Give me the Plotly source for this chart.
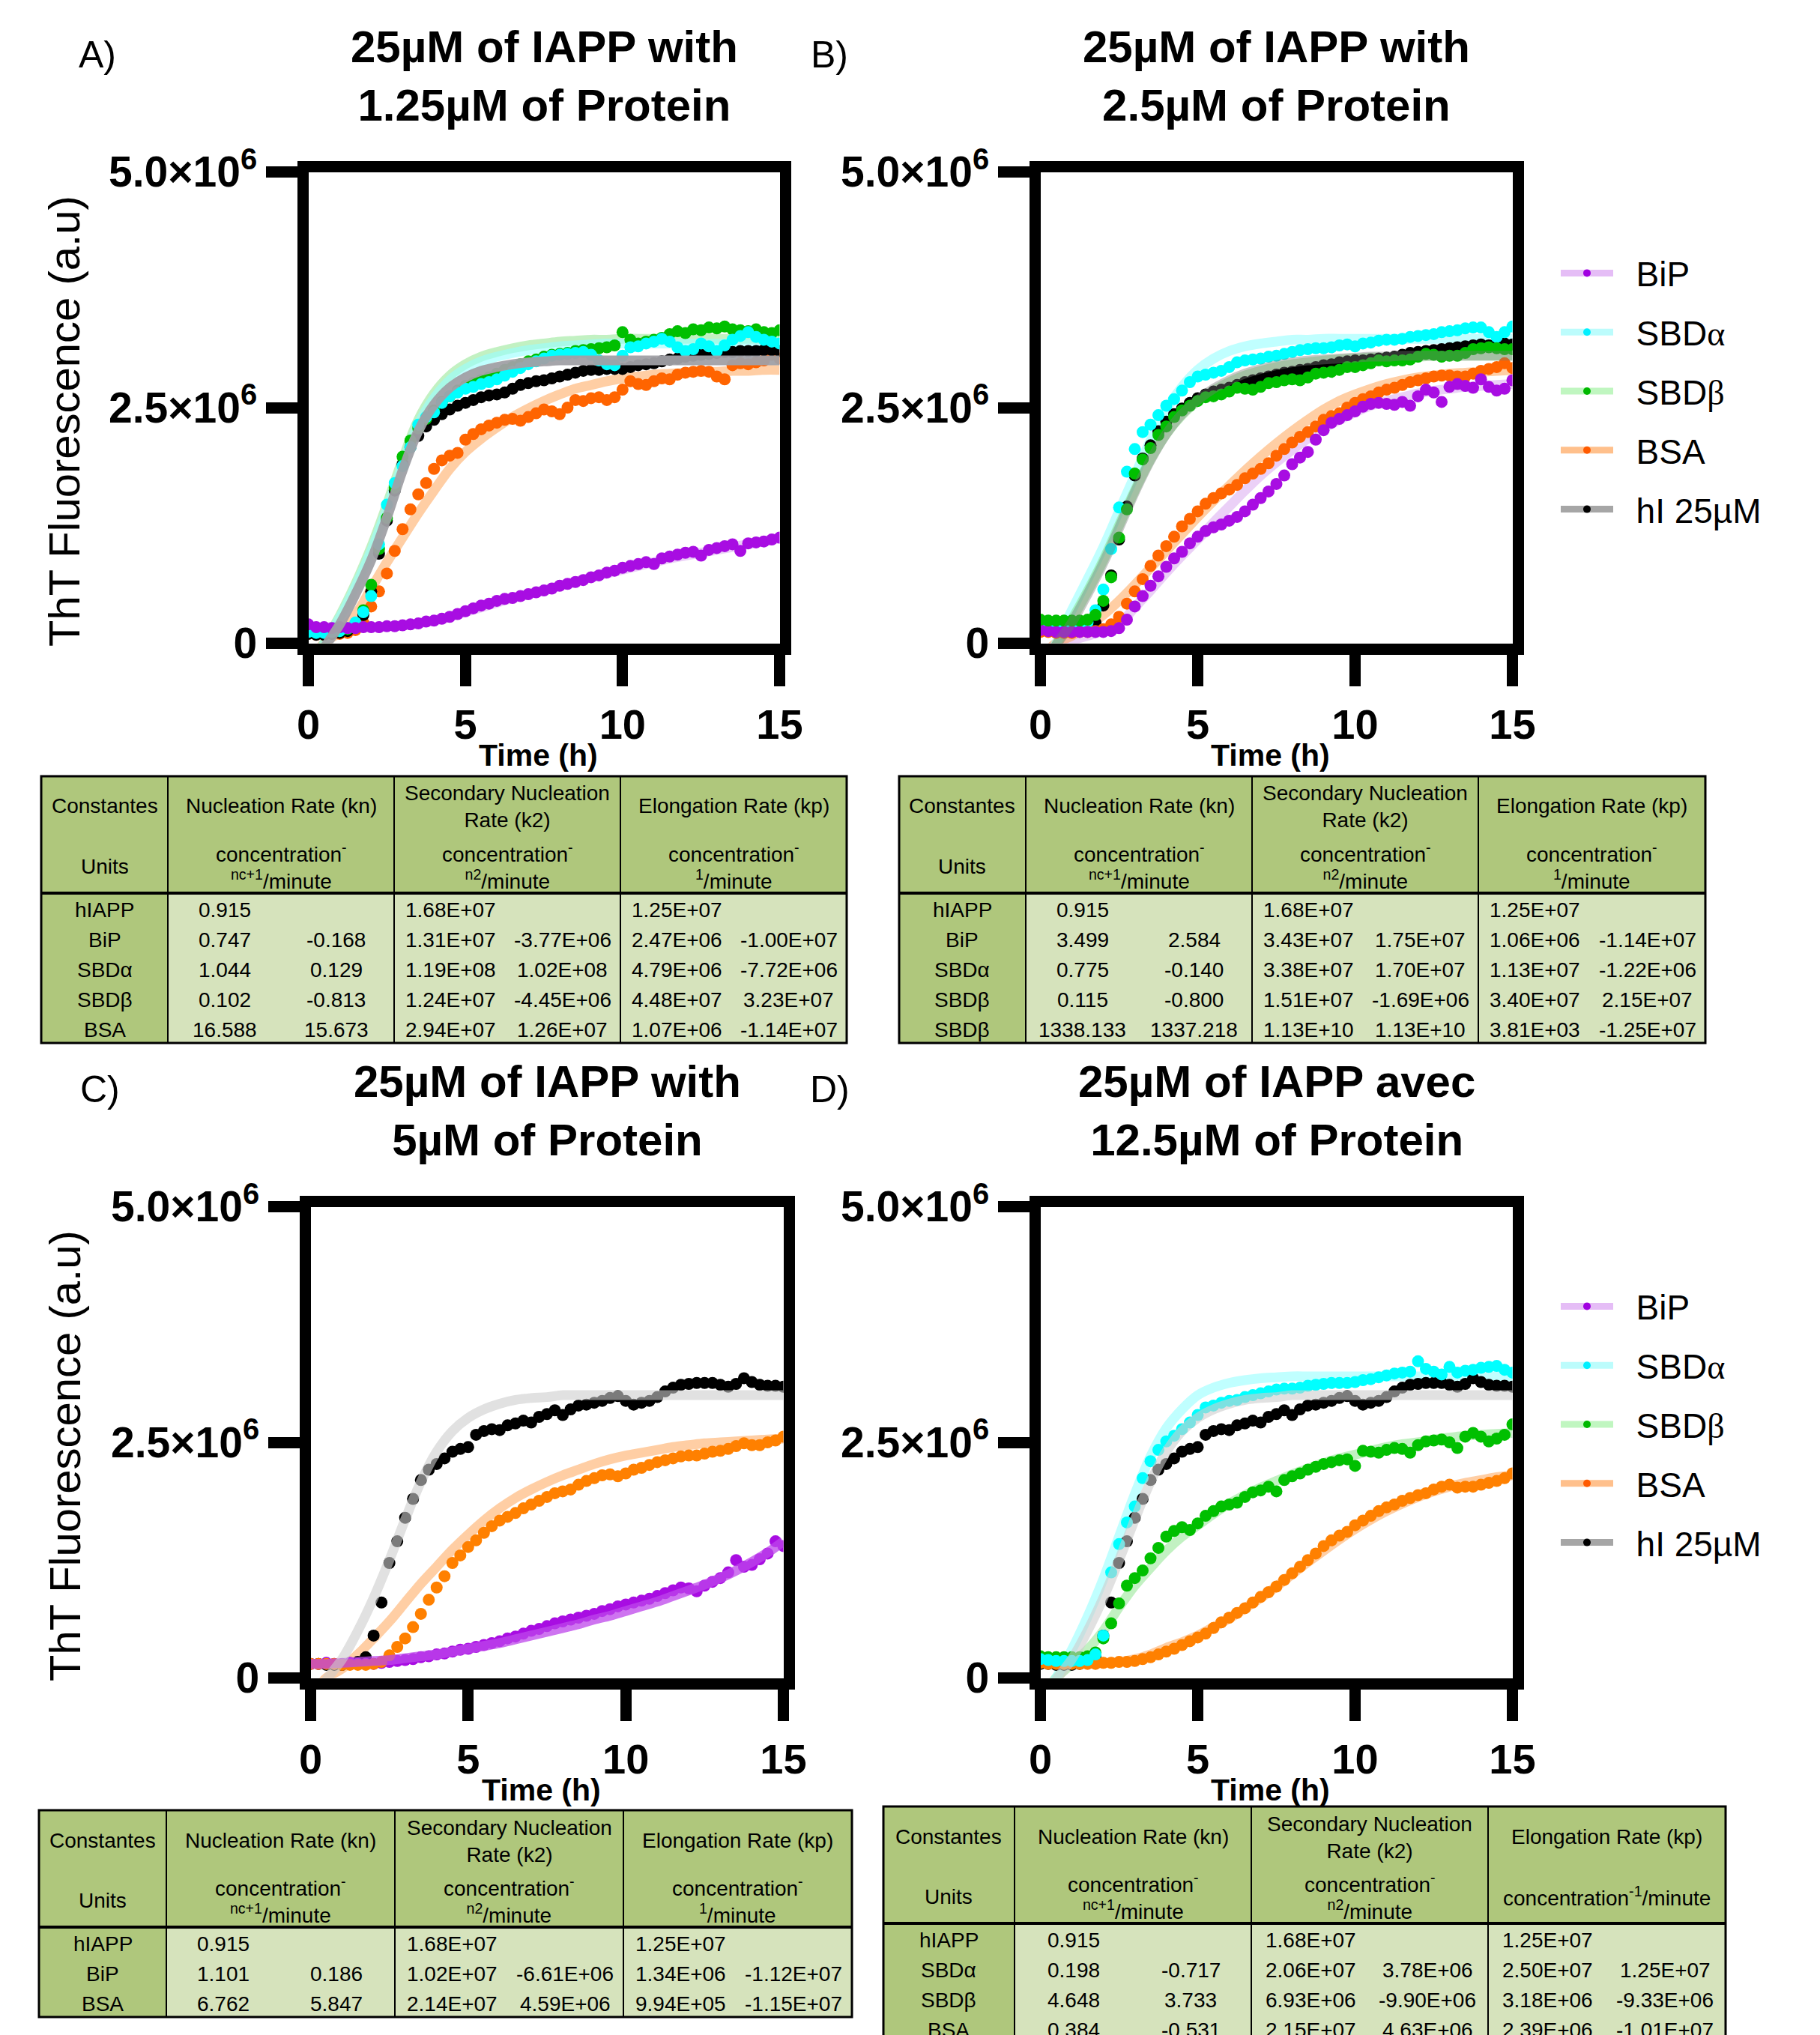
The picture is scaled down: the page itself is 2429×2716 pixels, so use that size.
import plotly.graph_objects as go

W, H = 2429, 2716
SANS = "Liberation Sans, Arial, sans-serif"
SCALE = 1e6

# ---------------- sampling times (h) ----------------
T = [0, 0.25, 0.5, 0.75, 1, 1.25, 1.5, 1.75, 2, 2.25, 2.5, 2.75, 3, 3.25, 3.5, 3.75,
     4, 4.25, 4.5, 4.75, 5, 5.25, 5.5, 5.75, 6, 6.25, 6.5, 6.75, 7, 7.25, 7.5, 7.75,
     8, 8.25, 8.5, 8.75, 9, 9.25, 9.5, 9.75, 10, 10.25, 10.5, 10.75, 11, 11.25, 11.5, 11.75,
     12, 12.25, 12.5, 12.75, 13, 13.25, 13.5, 13.75, 14, 14.25, 14.5, 14.75, 15]
FIT_T = [0, 0.5, 1, 1.5, 2, 2.5, 3, 3.5, 4, 4.5, 5, 5.5, 6, 6.5, 7, 7.5, 8, 8.5, 9, 9.5,
         10, 10.5, 11, 11.5, 12, 12.5, 13, 13.5, 14, 14.5, 15]

# ---------------- Panel A (1.25 µM) : ThT fluorescence (x10^6 a.u.) ----------------
A_BIP = [0.20, 0.17, 0.17, 0.16, 0.17, 0.16, 0.16, 0.17, 0.17, 0.17, 0.18, 0.18, 0.19, 0.20, 0.21, 0.23,
         0.24, 0.26, 0.28, 0.31, 0.34, 0.37, 0.40, 0.42, 0.45, 0.47, 0.48, 0.50, 0.52, 0.54, 0.56, 0.58,
         0.61, 0.63, 0.65, 0.67, 0.70, 0.72, 0.75, 0.77, 0.80, 0.82, 0.84, 0.86, 0.84, 0.90, 0.92, 0.94,
         0.96, 0.97, 0.93, 0.99, 1.01, 1.03, 1.05, 0.98, 1.06, 1.07, 1.08, 1.10, 1.12]
A_SBDA = [0.12, 0.11, 0.11, 0.12, 0.13, 0.16, 0.22, 0.33, 0.50, 1.05, 1.47, 1.70, 1.88, 2.08, 2.32, 2.40,
          2.45, 2.55, 2.62, 2.66, 2.70, 2.72, 2.75, 2.77, 2.80, 2.84, 2.88, 2.92, 2.96, 2.99, 3.02, 3.05,
          3.06, 3.07, 3.08, 3.09, 3.06, 3.00, 2.96, 2.95, 3.05, 3.14, 3.15, 3.18, 3.20, 3.23, 3.20, 3.14,
          3.10, 3.12, 3.18, 3.15, 3.10, 3.16, 3.22, 3.26, 3.30, 3.25, 3.22, 3.20, 3.18]
A_SBDB = [0.13, 0.12, 0.12, 0.12, 0.13, 0.15, 0.21, 0.35, 0.62, 1.00, 1.33, 1.65, 1.98, 2.15, 2.28, 2.38,
          2.47, 2.56, 2.62, 2.68, 2.73, 2.76, 2.79, 2.82, 2.86, 2.90, 2.93, 2.96, 2.99, 3.01, 3.04, 3.06,
          3.07, 3.08, 3.10, 3.11, 3.12, 3.13, 3.14, 3.16, 3.30, 3.22, 3.18, 3.20, 3.22, 3.24, 3.28, 3.31,
          3.29, 3.33, 3.32, 3.35, 3.34, 3.36, 3.33, 3.32, 3.31, 3.33, 3.30, 3.29, 3.32]
A_HI = [0.10, 0.09, 0.09, 0.10, 0.11, 0.13, 0.18, 0.30, 0.55, 0.95, 1.30, 1.62, 1.90, 2.08, 2.20, 2.30,
        2.37, 2.43, 2.48, 2.52, 2.55, 2.58, 2.61, 2.63, 2.64, 2.66, 2.70, 2.74, 2.76, 2.78, 2.79, 2.81,
        2.83, 2.85, 2.87, 2.89, 2.90, 2.90, 2.91, 2.91, 2.91, 2.93, 2.95, 2.96, 2.97, 2.99, 3.01, 3.02,
        3.04, 3.05, 3.06, 3.07, 3.08, 3.09, 3.09, 3.10, 3.10, 3.10, 3.11, 3.11, 3.10]
A_BSA = [0.10, 0.09, 0.09, 0.10, 0.10, 0.11, 0.14, 0.22, 0.39, 0.55, 0.74, 0.98, 1.21, 1.42, 1.58, 1.70,
         1.85, 1.94, 1.99, 2.02, 2.16, 2.22, 2.27, 2.31, 2.34, 2.37, 2.38, 2.36, 2.40, 2.44, 2.48, 2.46,
         2.43, 2.50, 2.58, 2.57, 2.60, 2.61, 2.58, 2.61, 2.69, 2.78, 2.75, 2.74, 2.78, 2.81, 2.80, 2.85,
         2.87, 2.88, 2.89, 2.88, 2.83, 2.80, 2.95, 2.97, 2.96, 2.98, 3.00, 3.06, 3.02]
A_BIP_FIT = [0.17, 0.17, 0.17, 0.17, 0.17, 0.18, 0.19, 0.21, 0.24, 0.28, 0.33, 0.38, 0.43, 0.48, 0.52, 0.56,
             0.61, 0.65, 0.70, 0.74, 0.78, 0.82, 0.86, 0.90, 0.93, 0.96, 0.99, 1.02, 1.05, 1.08, 1.11]
A_SBDA_FIT = [-0.30, 0.00, 0.27, 0.60, 0.98, 1.42, 1.90, 2.32, 2.60, 2.79, 2.91, 2.99, 3.04, 3.08, 3.11, 3.13,
              3.15, 3.16, 3.17, 3.18, 3.18, 3.18, 3.18, 3.18, 3.18, 3.18, 3.18, 3.18, 3.18, 3.18, 3.18]
A_SBDB_FIT = [-0.30, 0.00, 0.29, 0.63, 1.02, 1.47, 1.95, 2.37, 2.65, 2.84, 2.96, 3.04, 3.09, 3.13, 3.16, 3.18,
              3.20, 3.21, 3.22, 3.22, 3.23, 3.23, 3.23, 3.23, 3.23, 3.23, 3.23, 3.23, 3.23, 3.23, 3.23]
A_HI_FIT = [-0.30, -0.05, 0.20, 0.52, 0.88, 1.33, 1.83, 2.25, 2.53, 2.71, 2.82, 2.89, 2.93, 2.96, 2.98, 2.99,
            3.00, 3.00, 3.00, 3.00, 3.00, 3.00, 3.00, 3.00, 3.00, 3.00, 3.00, 3.00, 3.00, 3.00, 3.00]
A_BSA_FIT = [-0.20, 0.00, 0.12, 0.30, 0.58, 0.86, 1.12, 1.38, 1.62, 1.85, 2.03, 2.17, 2.29, 2.40, 2.49, 2.57,
             2.64, 2.70, 2.74, 2.78, 2.81, 2.83, 2.85, 2.86, 2.87, 2.88, 2.88, 2.89, 2.89, 2.90, 2.90]

# ---------------- Panel B (2.5 µM) ----------------
B_BIP = [0.14, 0.13, 0.12, 0.12, 0.12, 0.12, 0.12, 0.12, 0.12, 0.13, 0.16, 0.25, 0.39, 0.50, 0.61, 0.71,
         0.81, 0.90, 0.97, 1.06, 1.13, 1.19, 1.23, 1.26, 1.30, 1.34, 1.40, 1.47, 1.54, 1.61, 1.69, 1.78,
         1.90, 1.97, 2.03, 2.16, 2.26, 2.34, 2.38, 2.42, 2.46, 2.51, 2.54, 2.55, 2.54, 2.53, 2.56, 2.52,
         2.62, 2.69, 2.66, 2.56, 2.72, 2.75, 2.73, 2.71, 2.80, 2.72, 2.68, 2.70, 2.79]
B_SBDA = [0.17, 0.16, 0.16, 0.16, 0.16, 0.17, 0.22, 0.35, 0.57, 1.00, 1.44, 1.82, 2.06, 2.24, 2.32, 2.42,
          2.52, 2.59, 2.68, 2.77, 2.83, 2.85, 2.87, 2.89, 2.93, 2.98, 3.00, 3.01, 3.02, 3.04, 3.05, 3.07,
          3.09, 3.11, 3.12, 3.13, 3.13, 3.14, 3.16, 3.17, 3.15, 3.18, 3.19, 3.21, 3.22, 3.22, 3.23, 3.25,
          3.26, 3.27, 3.28, 3.30, 3.31, 3.32, 3.34, 3.35, 3.35, 3.30, 3.25, 3.30, 3.36]
B_SBDB = [0.25, 0.24, 0.24, 0.24, 0.24, 0.24, 0.25, 0.30, 0.45, 0.70, 1.12, 1.42, 1.80, 1.95, 2.07, 2.21,
          2.30, 2.40, 2.47, 2.52, 2.57, 2.61, 2.62, 2.64, 2.67, 2.71, 2.70, 2.69, 2.72, 2.76, 2.77, 2.79,
          2.80, 2.79, 2.82, 2.86, 2.87, 2.88, 2.90, 2.93, 2.93, 2.95, 2.97, 3.00, 2.99, 3.00, 3.00, 3.01,
          3.04, 3.07, 3.06, 3.04, 3.05, 3.05, 3.08, 3.12, 3.13, 3.14, 3.13, 3.12, 3.12]
B_HI = [0.14, 0.13, 0.13, 0.13, 0.13, 0.14, 0.16, 0.22, 0.40, 0.72, 1.10, 1.45, 1.78, 1.96, 2.10, 2.25,
        2.35, 2.43, 2.49, 2.55, 2.60, 2.64, 2.67, 2.69, 2.71, 2.74, 2.77, 2.79, 2.81, 2.83, 2.85, 2.87,
        2.88, 2.90, 2.91, 2.93, 2.95, 2.96, 2.98, 2.99, 3.00, 3.00, 3.01, 3.02, 3.03, 3.04, 3.06, 3.08,
        3.09, 3.10, 3.11, 3.12, 3.13, 3.14, 3.15, 3.16, 3.17, 3.16, 3.17, 3.18, 3.17]
B_BSA = [0.12, 0.12, 0.11, 0.11, 0.11, 0.12, 0.12, 0.13, 0.15, 0.20, 0.28, 0.42, 0.55, 0.68, 0.82, 0.93,
         1.03, 1.13, 1.24, 1.32, 1.40, 1.48, 1.54, 1.59, 1.63, 1.68, 1.75, 1.80, 1.85, 1.91, 1.99, 2.06,
         2.13, 2.19, 2.24, 2.30, 2.37, 2.41, 2.44, 2.50, 2.55, 2.59, 2.62, 2.66, 2.69, 2.71, 2.74, 2.77,
         2.79, 2.81, 2.83, 2.84, 2.84, 2.83, 2.83, 2.86, 2.89, 2.91, 2.93, 2.97, 2.92]
B_BIP_FIT = [-0.10, -0.02, 0.03, 0.08, 0.13, 0.20, 0.38, 0.56, 0.75, 0.93, 1.10, 1.28, 1.45, 1.62, 1.78, 1.92,
             2.05, 2.17, 2.28, 2.37, 2.45, 2.52, 2.57, 2.61, 2.65, 2.68, 2.70, 2.72, 2.73, 2.74, 2.75]
B_SBDA_FIT = [-0.30, 0.00, 0.35, 0.68, 1.02, 1.40, 1.78, 2.15, 2.48, 2.72, 2.90, 3.02, 3.10, 3.15, 3.18, 3.20,
              3.22, 3.22, 3.23, 3.23, 3.23, 3.23, 3.23, 3.23, 3.23, 3.23, 3.23, 3.23, 3.23, 3.23, 3.23]
B_SBDB_FIT = [-0.30, -0.02, 0.25, 0.55, 0.88, 1.25, 1.62, 1.95, 2.22, 2.42, 2.57, 2.68, 2.77, 2.84, 2.89, 2.93,
              2.96, 2.98, 3.00, 3.01, 3.02, 3.03, 3.03, 3.04, 3.04, 3.05, 3.05, 3.05, 3.05, 3.05, 3.05]
B_HI_FIT = [-0.30, -0.02, 0.22, 0.52, 0.85, 1.22, 1.60, 1.94, 2.22, 2.43, 2.58, 2.70, 2.79, 2.86, 2.91, 2.95,
            2.98, 3.00, 3.01, 3.02, 3.03, 3.04, 3.04, 3.05, 3.05, 3.05, 3.05, 3.05, 3.05, 3.05, 3.05]
B_BSA_FIT = [-0.15, 0.00, 0.08, 0.18, 0.30, 0.45, 0.62, 0.80, 0.98, 1.16, 1.34, 1.51, 1.67, 1.83, 1.98, 2.12,
             2.25, 2.37, 2.48, 2.57, 2.64, 2.70, 2.75, 2.79, 2.82, 2.84, 2.86, 2.87, 2.88, 2.89, 2.90]

# ---------------- Panels C (5 µM) and D (12.5 µM) ----------------
HI_CD = [0.15, 0.15, 0.14, 0.14, 0.14, 0.15, 0.17, 0.22, 0.45, 0.80, 1.22, 1.45, 1.70, 1.90, 2.10, 2.21,
         2.27, 2.33, 2.40, 2.43, 2.45, 2.58, 2.62, 2.64, 2.63, 2.68, 2.70, 2.73, 2.71, 2.77, 2.80, 2.84,
         2.79, 2.85, 2.89, 2.90, 2.92, 2.94, 2.97, 2.99, 2.94, 2.90, 2.92, 2.94, 2.98, 3.04, 3.08, 3.11,
         3.12, 3.13, 3.13, 3.13, 3.11, 3.09, 3.12, 3.18, 3.14, 3.11, 3.10, 3.10, 3.09]
HI_CD_FIT = [-0.30, -0.02, 0.20, 0.50, 0.85, 1.25, 1.68, 2.08, 2.40, 2.62, 2.76, 2.85, 2.91, 2.95, 2.97, 2.98,
             3.00, 3.00, 3.00, 3.00, 3.00, 3.00, 3.00, 3.00, 3.00, 3.00, 3.00, 3.00, 3.00, 3.00, 3.00]
C_BSA = [0.15, 0.15, 0.15, 0.15, 0.14, 0.14, 0.14, 0.14, 0.15, 0.17, 0.24, 0.33, 0.42, 0.54, 0.68, 0.83,
         0.96, 1.08, 1.22, 1.30, 1.39, 1.46, 1.54, 1.61, 1.67, 1.71, 1.75, 1.80, 1.84, 1.88, 1.92, 1.96,
         1.98, 2.00, 2.05, 2.09, 2.12, 2.15, 2.16, 2.14, 2.17, 2.21, 2.23, 2.26, 2.29, 2.31, 2.33, 2.35,
         2.36, 2.36, 2.38, 2.40, 2.41, 2.43, 2.46, 2.49, 2.47, 2.47, 2.50, 2.52, 2.56]
C_BSA_FIT = [-0.20, 0.00, 0.10, 0.25, 0.42, 0.60, 0.80, 1.00, 1.18, 1.36, 1.52, 1.67, 1.80, 1.91, 2.00, 2.08,
             2.15, 2.21, 2.27, 2.32, 2.36, 2.39, 2.42, 2.45, 2.47, 2.49, 2.50, 2.51, 2.52, 2.53, 2.54]
C_BIP = [0.15, 0.15, 0.16, 0.15, 0.15, 0.16, 0.15, 0.15, 0.15, 0.16, 0.17, 0.18, 0.19, 0.20, 0.22, 0.23,
         0.25, 0.26, 0.28, 0.30, 0.31, 0.33, 0.35, 0.37, 0.39, 0.42, 0.44, 0.47, 0.50, 0.52, 0.55, 0.58,
         0.60, 0.62, 0.64, 0.66, 0.68, 0.71, 0.73, 0.76, 0.78, 0.80, 0.82, 0.84, 0.87, 0.90, 0.93, 0.96,
         0.95, 0.92, 0.98, 1.02, 1.06, 1.12, 1.25, 1.18, 1.20, 1.26, 1.32, 1.45, 1.40]
C_BIP_FIT = [0.15, 0.15, 0.16, 0.17, 0.18, 0.19, 0.21, 0.23, 0.25, 0.28, 0.31, 0.34, 0.37, 0.41, 0.45, 0.49,
             0.53, 0.57, 0.62, 0.66, 0.71, 0.76, 0.81, 0.87, 0.93, 0.99, 1.06, 1.14, 1.23, 1.33, 1.45]
D_SBDA = [0.20, 0.19, 0.18, 0.18, 0.18, 0.18, 0.19, 0.25, 0.45, 1.12, 1.42, 1.65, 1.82, 2.12, 2.30, 2.42,
          2.51, 2.57, 2.64, 2.71, 2.79, 2.87, 2.89, 2.92, 2.94, 2.95, 2.98, 3.00, 3.02, 3.04, 3.06, 3.07,
          3.07, 3.08, 3.10, 3.11, 3.12, 3.13, 3.13, 3.13, 3.14, 3.16, 3.17, 3.19, 3.21, 3.23, 3.24, 3.25,
          3.36, 3.28, 3.25, 3.22, 3.30, 3.24, 3.26, 3.27, 3.29, 3.30, 3.31, 3.27, 3.24]
D_SBDA_FIT = [-0.30, 0.00, 0.30, 0.65, 1.05, 1.50, 1.95, 2.35, 2.65, 2.85, 3.00, 3.08, 3.13, 3.16, 3.18, 3.19,
              3.20, 3.20, 3.20, 3.20, 3.20, 3.20, 3.20, 3.20, 3.20, 3.20, 3.20, 3.20, 3.20, 3.20, 3.20]
D_SBDB = [0.23, 0.22, 0.22, 0.22, 0.22, 0.22, 0.23, 0.27, 0.42, 0.58, 0.79, 0.98, 1.06, 1.14, 1.27, 1.38,
          1.50, 1.56, 1.60, 1.57, 1.64, 1.72, 1.77, 1.82, 1.84, 1.86, 1.92, 1.97, 1.99, 2.03, 1.98, 2.10,
          2.14, 2.17, 2.21, 2.24, 2.27, 2.29, 2.31, 2.32, 2.25, 2.41, 2.40, 2.39, 2.42, 2.44, 2.43, 2.39,
          2.47, 2.51, 2.52, 2.53, 2.50, 2.44, 2.56, 2.60, 2.56, 2.51, 2.54, 2.58, 2.69]
D_SBDB_FIT = [-0.20, 0.00, 0.15, 0.30, 0.50, 0.75, 0.98, 1.17, 1.35, 1.50, 1.62, 1.74, 1.85, 1.94, 2.02, 2.09,
              2.16, 2.22, 2.28, 2.33, 2.37, 2.41, 2.45, 2.48, 2.50, 2.53, 2.55, 2.57, 2.58, 2.59, 2.60]
D_BSA = [0.16, 0.15, 0.15, 0.15, 0.15, 0.15, 0.15, 0.15, 0.16, 0.16, 0.17, 0.17, 0.18, 0.20, 0.22, 0.25,
         0.28, 0.31, 0.35, 0.39, 0.43, 0.47, 0.53, 0.59, 0.64, 0.69, 0.74, 0.80, 0.86, 0.91, 0.97, 1.04,
         1.11, 1.18, 1.25, 1.32, 1.40, 1.46, 1.51, 1.55, 1.62, 1.67, 1.72, 1.77, 1.81, 1.84, 1.88, 1.91,
         1.94, 1.96, 2.00, 2.03, 2.05, 2.02, 2.03, 2.03, 2.05, 2.07, 2.09, 2.12, 2.17]
D_BSA_FIT = [0.15, 0.15, 0.15, 0.15, 0.16, 0.17, 0.20, 0.25, 0.32, 0.38, 0.45, 0.54, 0.63, 0.74, 0.85, 0.97,
             1.10, 1.23, 1.35, 1.47, 1.58, 1.68, 1.77, 1.85, 1.92, 1.98, 2.03, 2.07, 2.10, 2.13, 2.15]

for _arr in [A_BIP, A_SBDA, A_SBDB, A_HI, A_BSA, B_BIP, B_SBDA, B_SBDB, B_HI, B_BSA,
             HI_CD, C_BSA, C_BIP, D_SBDA, D_SBDB, D_BSA]:
    assert len(_arr) == len(T), len(_arr)
for _arr in [A_BIP_FIT, A_SBDA_FIT, A_SBDB_FIT, A_HI_FIT, A_BSA_FIT, B_BIP_FIT, B_SBDA_FIT, B_SBDB_FIT,
             B_HI_FIT, B_BSA_FIT, HI_CD_FIT, C_BSA_FIT, C_BIP_FIT, D_SBDA_FIT, D_SBDB_FIT, D_BSA_FIT]:
    assert len(_arr) == len(FIT_T), len(_arr)

# ---------------- Kinetic constants tables ----------------
TA_ROWS = ["hIAPP", "BiP", "SBDα", "SBDβ", "BSA"]
TA_KN = [0.915, 0.747, 1.044, 0.102, 16.588]
TA_KN_D = [None, -0.168, 0.129, -0.813, 15.673]
TA_K2 = [1.68e7, 1.31e7, 1.19e8, 1.24e7, 2.94e7]
TA_K2_D = [None, -3.77e6, 1.02e8, -4.45e6, 1.26e7]
TA_KP = [1.25e7, 2.47e6, 4.79e6, 4.48e7, 1.07e6]
TA_KP_D = [None, -1.00e7, -7.72e6, 3.23e7, -1.14e7]

TB_ROWS = ["hIAPP", "BiP", "SBDα", "SBDβ", "SBDβ"]
TB_KN = [0.915, 3.499, 0.775, 0.115, 1338.133]
TB_KN_D = [None, 2.584, -0.140, -0.800, 1337.218]
TB_K2 = [1.68e7, 3.43e7, 3.38e7, 1.51e7, 1.13e10]
TB_K2_D = [None, 1.75e7, 1.70e7, -1.69e6, 1.13e10]
TB_KP = [1.25e7, 1.06e6, 1.13e7, 3.40e7, 3.81e3]
TB_KP_D = [None, -1.14e7, -1.22e6, 2.15e7, -1.25e7]

TC_ROWS = ["hIAPP", "BiP", "BSA"]
TC_KN = [0.915, 1.101, 6.762]
TC_KN_D = [None, 0.186, 5.847]
TC_K2 = [1.68e7, 1.02e7, 2.14e7]
TC_K2_D = [None, -6.61e6, 4.59e6]
TC_KP = [1.25e7, 1.34e6, 9.94e5]
TC_KP_D = [None, -1.12e7, -1.15e7]

TD_ROWS = ["hIAPP", "SBDα", "SBDβ", "BSA"]
TD_KN = [0.915, 0.198, 4.648, 0.384]
TD_KN_D = [None, -0.717, 3.733, -0.531]
TD_K2 = [1.68e7, 2.06e7, 6.93e6, 2.15e7]
TD_K2_D = [None, 3.78e6, -9.90e6, 4.63e6]
TD_KP = [1.25e7, 2.50e7, 3.18e6, 2.39e6]
TD_KP_D = [None, 1.25e7, -9.33e6, -1.01e7]

# ---------------- styles ----------------
DOT = {"BiP": "#a80de2", "SBDα": "#00ffff", "SBDβ": "#00bf00", "BSA1": "#ff6400", "BSA2": "#ff8000", "hI": "#000000"}
LEG_LINE = {"BiP": "#e5bdf6", "SBDα": "#bcfcfc", "SBDβ": "#c0f6c0", "BSA": "#ffc08c", "hI": "#a6a6a6"}
LEG_DOT = {"BiP": "#a000e0", "SBDα": "#00f0ff", "SBDβ": "#00b800", "BSA": "#ff5a00", "hI": "#000000"}
PAD = "\u00a0\u00a0"
LEG_NAMES = {"BiP": PAD + "BiP",
             "SBDα": PAD + "SBD<span style='font-family:Liberation Serif'>α</span>",
             "SBDβ": PAD + "SBD<span style='font-family:Liberation Serif'>β</span>",
             "BSA": PAD + "BSA", "hI": PAD + "hI 25µM"}

FIT_BIP = "rgba(210,150,238,0.45)"
FIT_BIP_C = "rgba(190,70,235,0.75)"
FIT_SBDA = "rgba(150,255,255,0.6)"
FIT_SBDB = "rgba(120,225,120,0.45)"
FIT_BSA = "rgba(255,165,90,0.55)"
FIT_HI_A = "rgba(160,160,165,0.95)"
FIT_HI_B = "rgba(120,120,120,0.40)"
FIT_HI_CD = "rgba(205,205,205,0.60)"

# panel frames (px): left, right, top, bottom
PANELS = [
    dict(ax="", frame=(404, 1048, 222, 866), letter="A)",
         title="25µM of IAPP with<br>1.25µM of Protein", ytitle=True, legend=None,
         fits=[(A_BIP_FIT, FIT_BIP), (A_BSA_FIT, FIT_BSA), (A_SBDB_FIT, FIT_SBDB), (A_SBDA_FIT, FIT_SBDA)],
         dots=[(A_BSA, DOT["BSA1"]), (A_HI, DOT["hI"]), (A_SBDB, DOT["SBDβ"]), (A_SBDA, DOT["SBDα"]),
               (A_BIP, DOT["BiP"])],
         top_fits=[(A_HI_FIT, FIT_HI_A)]),
    dict(ax="2", frame=(1381, 2026, 222, 866), letter="B)",
         title="25µM of IAPP with<br>2.5µM of Protein", ytitle=False, legend="legend",
         fits=[(B_BIP_FIT, FIT_BIP), (B_BSA_FIT, FIT_BSA), (B_SBDA_FIT, FIT_SBDA), (B_SBDB_FIT, FIT_SBDB)],
         dots=[(B_HI, DOT["hI"]), (B_SBDA, DOT["SBDα"]), (B_BSA, DOT["BSA1"]), (B_BIP, DOT["BiP"]),
               (B_SBDB, DOT["SBDβ"])],
         top_fits=[(B_HI_FIT, FIT_HI_B)]),
    dict(ax="3", frame=(407, 1053, 1603, 2247), letter="C)",
         title="25µM of IAPP with<br>5µM of Protein", ytitle=True, legend=None,
         fits=[(C_BSA_FIT, FIT_BSA)],
         dots=[(HI_CD, DOT["hI"]), (C_BIP, DOT["BiP"]), (C_BSA, DOT["BSA2"])],
         top_fits=[(C_BIP_FIT, FIT_BIP_C), (HI_CD_FIT, FIT_HI_CD)]),
    dict(ax="4", frame=(1381, 2026, 1603, 2247), letter="D)",
         title="25µM of IAPP avec<br>12.5µM of Protein", ytitle=False, legend="legend2",
         fits=[(D_BSA_FIT, FIT_BSA), (D_SBDB_FIT, FIT_SBDB), (D_SBDA_FIT, FIT_SBDA)],
         dots=[(HI_CD, DOT["hI"]), (D_BSA, DOT["BSA2"]), (D_SBDB, DOT["SBDβ"]), (D_SBDA, DOT["SBDα"])],
         top_fits=[(HI_CD_FIT, FIT_HI_CD)]),
]

fig = go.Figure()
layout = dict(width=W, height=H, margin=dict(l=0, r=0, t=0, b=0, pad=0, autoexpand=False),
              paper_bgcolor="white", plot_bgcolor="white", showlegend=True)
annotations = []
shapes = []


def X(px):
    return px / W


def Y(py):
    return 1 - py / H


LW = 15
for p in PANELS:
    L, R, Tp, B = p["frame"]
    xa, ya = "x" + p["ax"], "y" + p["ax"]
    h = LW / 2
    layout["xaxis" + p["ax"]] = dict(
        domain=[X(L + h), X(R - h)], range=[0, 15], anchor=ya, automargin=False,
        showline=True, linewidth=LW, linecolor="black", mirror=True,
        ticks="outside", ticklen=42, tickwidth=LW, tickcolor="black",
        tickvals=[0, 5, 10, 15], ticktext=["0", "5", "10", "15"],
        tickfont=dict(family=SANS, size=56, color="black", weight="bold"),
        ticklabelstandoff=3, showgrid=False, zeroline=False, fixedrange=True)
    layout["yaxis" + p["ax"]] = dict(
        domain=[Y(B - h), Y(Tp + h)], range=[0, 5 * SCALE], anchor=xa, automargin=False,
        showline=True, linewidth=LW, linecolor="black", mirror=True,
        ticks="outside", ticklen=42, tickwidth=LW, tickcolor="black",
        tickvals=[0, 2.5 * SCALE, 5 * SCALE], ticktext=["0", "2.5×10<sup>6</sup>", "5.0×10<sup>6</sup>"],
        tickfont=dict(family=SANS, size=57, color="black", weight="bold"),
        showgrid=False, zeroline=False, fixedrange=True)

    def add_fit(vals, color):
        fig.add_trace(go.Scatter(x=FIT_T, y=[v * SCALE for v in vals], mode="lines",
                                 line=dict(color=color, width=13, shape="spline"),
                                 xaxis=xa, yaxis=ya, showlegend=False, hoverinfo="skip"))

    for vals, color in p["fits"]:
        add_fit(vals, color)
    for vals, color in p["dots"]:
        fig.add_trace(go.Scatter(x=T, y=[v * SCALE for v in vals], mode="markers",
                                 marker=dict(color=color, size=16, line=dict(width=0)),
                                 xaxis=xa, yaxis=ya, showlegend=False))
    for vals, color in p["top_fits"]:
        add_fit(vals, color)

    # legend keys
    if p["legend"]:
        for key in ["BiP", "SBDα", "SBDβ", "BSA", "hI"]:
            fig.add_trace(go.Scatter(x=[None], y=[None], mode="lines+markers", name=LEG_NAMES[key],
                                     line=dict(color=LEG_LINE[key], width=9),
                                     marker=dict(color=LEG_DOT[key], size=10),
                                     legendgroup=p["legend"] + key, legend=p["legend"],
                                     xaxis=xa, yaxis=ya, showlegend=True))

    cx = (L + R) / 2
    annotations.append(dict(x=X(cx), y=Y(Tp - 120), xref="paper", yref="paper", text="<b>" + p["title"] + "</b>",
                            showarrow=False, xanchor="center", yanchor="middle",
                            font=dict(family=SANS, size=60, color="black")))
    annotations.append(dict(x=X(L - 274), y=Y(Tp - 149), xref="paper", yref="paper", text=p["letter"],
                            showarrow=False, xanchor="center", yanchor="middle",
                            font=dict(family=SANS, size=50, color="black")))
    annotations.append(dict(x=X(cx - 8), y=Y(B + 142), xref="paper", yref="paper", text="<b>Time (h)</b>",
                            showarrow=False, xanchor="center", yanchor="middle",
                            font=dict(family=SANS, size=41, color="black")))
    if p["ytitle"]:
        annotations.append(dict(x=X(86), y=Y((Tp + B) / 2 + 18), xref="paper", yref="paper",
                                text="ThT Fluorescence (a.u)", textangle=-90, showarrow=False,
                                xanchor="center", yanchor="middle",
                                font=dict(family=SANS, size=58, color="black")))

LEGEND_COMMON = dict(xanchor="left", yanchor="top", font=dict(family=SANS, size=46, color="black"),
                     itemwidth=70, tracegroupgap=16, traceorder="grouped",
                     bgcolor="rgba(0,0,0,0)", borderwidth=0)
layout["legend"] = dict(x=X(2078), y=Y(328), **LEGEND_COMMON)
layout["legend2"] = dict(x=X(2078), y=Y(1707), **LEGEND_COMMON)

# ---------------- tables ----------------
HEAD_GREEN = "#afc77c"
BODY_GREEN = "#d6e3bc"
TFONT = dict(family=SANS, size=28, color="black")


def fmt_kn(v):
    return "" if v is None else f"{v:.3f}"


def fmt_e(v):
    return "" if v is None else f"{v:.2E}"


def add_table(geom, rows, kn, knd, k2, k2d, kp, kpd, kp_single=False):
    x0, c1, c2, c3, x1, top = geom
    hb = top + 156
    bot = hb + 40 * len(rows)

    def rect(a, b, c, d, fill):
        shapes.append(dict(type="rect", xref="paper", yref="paper", x0=X(a), x1=X(c), y0=Y(d), y1=Y(b),
                           fillcolor=fill, line=dict(width=0), layer="below"))

    def seg(a, b, c, d, w):
        shapes.append(dict(type="line", xref="paper", yref="paper", x0=X(a), x1=X(c), y0=Y(b), y1=Y(d),
                           line=dict(color="black", width=w)))

    rect(x0, top, x1, hb, HEAD_GREEN)
    rect(x0, hb, c1, bot, HEAD_GREEN)
    rect(c1, hb, x1, bot, BODY_GREEN)
    for c in (c1, c2, c3):
        seg(c, top, c, bot, 2)
    seg(x0, hb, x1, hb, 4)
    shapes.append(dict(type="rect", xref="paper", yref="paper", x0=X(x0), x1=X(x1), y0=Y(bot), y1=Y(top),
                       line=dict(color="black", width=3)))

    def txt(x, y, s):
        if not s:
            return
        annotations.append(dict(x=X(x), y=Y(y), xref="paper", yref="paper", text=s, showarrow=False,
                                xanchor="center", yanchor="middle", font=TFONT))

    m0 = (x0 + c1) / 2
    m1 = (c1 + c2) / 2
    m2 = (c2 + c3) / 2
    m3 = (c3 + x1) / 2
    txt(m0, top + 40, "Constantes")
    txt(m0, top + 120, "Units")
    txt(m1, top + 40, "Nucleation Rate (kn)")
    txt(m1, top + 120, "concentration<sup>-</sup><br><sup>nc+1</sup>/minute")
    txt(m2, top + 41, "Secondary Nucleation<br>Rate (k2)")
    txt(m2, top + 120, "concentration<sup>-</sup><br><sup>n2</sup>/minute")
    txt(m3, top + 40, "Elongation Rate (kp)")
    if kp_single:
        txt(m3, top + 120, "concentration<sup>-1</sup>/minute")
    else:
        txt(m3, top + 120, "concentration<sup>-</sup><br><sup>1</sup>/minute")
    cols = [(c1, c2, kn, knd, fmt_kn), (c2, c3, k2, k2d, fmt_e), (c3, x1, kp, kpd, fmt_e)]
    for i, name in enumerate(rows):
        yy = top + 178 + 40 * i
        txt(m0, yy, name)
        for a, b, v1, v2, f in cols:
            txt(a + 0.25 * (b - a), yy, f(v1[i]))
            txt(a + 0.745 * (b - a), yy, f(v2[i]))


add_table((55, 224, 526, 828, 1130, 1036), TA_ROWS, TA_KN, TA_KN_D, TA_K2, TA_K2_D, TA_KP, TA_KP_D)
add_table((1200, 1369, 1671, 1973, 2276, 1036), TB_ROWS, TB_KN, TB_KN_D, TB_K2, TB_K2_D, TB_KP, TB_KP_D)
add_table((52, 222, 527, 832, 1137, 2416), TC_ROWS, TC_KN, TC_KN_D, TC_K2, TC_K2_D, TC_KP, TC_KP_D)
add_table((1179, 1354, 1670, 1986, 2303, 2411), TD_ROWS, TD_KN, TD_KN_D, TD_K2, TD_K2_D, TD_KP, TD_KP_D,
          kp_single=True)

layout["annotations"] = annotations
layout["shapes"] = shapes
fig.update_layout(**layout)
# the page's default 8px body margin would shift the whole figure; remove it
fig.write_html("out.html", config={"displayModeBar": False},
               post_script="document.body.style.margin='0px';document.body.style.padding='0px';")
